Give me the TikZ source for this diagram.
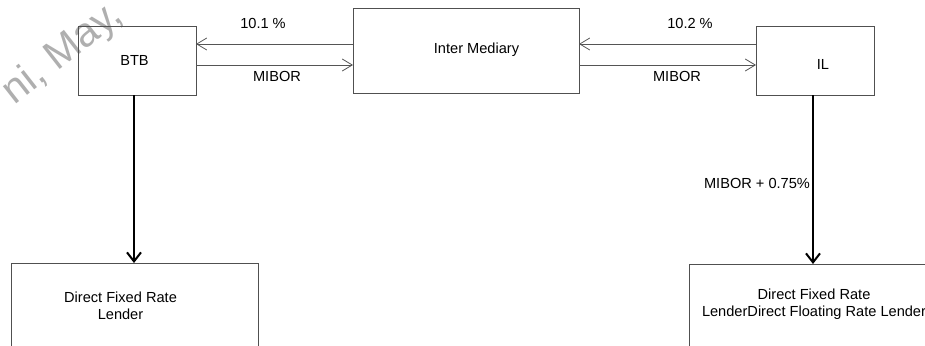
\documentclass[tikz,border=0pt]{standalone}
\usepackage{fontspec}
\setmainfont{Liberation Sans}
\usetikzlibrary{arrows.meta}
\definecolor{boxgray}{RGB}{80,80,80}
\definecolor{arrgray}{RGB}{85,85,85}
\definecolor{wmgray}{RGB}{175,175,175}
\begin{document}
\begin{tikzpicture}[x=1pt,y=-1pt,
  box/.style={draw=boxgray,line width=0.9pt,inner sep=0pt,outer sep=0pt},
  txt/.style={font=\fontsize{14.6}{17}\selectfont,text=black,align=center,inner sep=0pt},
  harrow/.style={draw=arrgray,line width=0.8pt,-{Straight Barb[length=10pt,width=12pt]}},
  varrow/.style={draw=black,line width=2pt,-{Straight Barb[length=9pt,width=14pt]}}]
\clip (0,0) rectangle (925,345);
\fill[white] (0,0) rectangle (925,345);
% watermark
\node[rotate=38,text=wmgray,font=\fontsize{41}{41}\selectfont,inner sep=0pt] (wm) at (63,54) {ni, May,};
% boxes
\node[box,minimum width=118pt,minimum height=69pt] (BTB) at (137,60.5) {};
\node[box,minimum width=226pt,minimum height=85pt] (IM) at (466,50.5) {};
\node[box,minimum width=118pt,minimum height=69pt] (IL) at (815,60.5) {};
\node[box,minimum width=247pt,minimum height=118pt] (LB) at (134.5,322) {};
\node[box,minimum width=248pt,minimum height=118pt] (RB) at (813,323) {};
% box texts
\node[txt] (tBTB) at (134.5,60) {BTB};
\node[txt] (tIM) at (476.5,50) {Inter Mediary};
\node[txt] (tIL) at (823,64) {IL};
\node[txt] (tLB) at (120.5,305.5) {Direct Fixed Rate\\Lender};
\node[txt] (tRB) at (814,304.5) {Direct Fixed Rate\\LenderDirect Floating Rate Lender};
% helper coordinates
\coordinate (ya) at (0,44);
\coordinate (yb) at (0,65);
\coordinate (xl) at (134,0);
\coordinate (xr) at (813,0);
% horizontal arrows
\draw[harrow] (IM.west |- ya) -- (BTB.east |- ya);
\draw[harrow] (BTB.east |- yb) -- (IM.west |- yb);
\draw[harrow] (IL.west |- ya) -- (IM.east |- ya);
\draw[harrow] (IM.east |- yb) -- (IL.west |- yb);
% vertical arrows
\draw[varrow] (xl |- BTB.south) -- (xl |- LB.north);
\draw[varrow] (xr |- IL.south) -- (xr |- RB.north);
% labels
\node[txt] (l1) at (263,23) {10.1 \%};
\node[txt] (l2) at (277,76) {MIBOR};
\node[txt] (l3) at (690,23) {10.2 \%};
\node[txt] (l4) at (677,76) {MIBOR};
\node[txt] (l5) at (757,183) {MIBOR + 0.75\%};
\end{tikzpicture}
\end{document}
